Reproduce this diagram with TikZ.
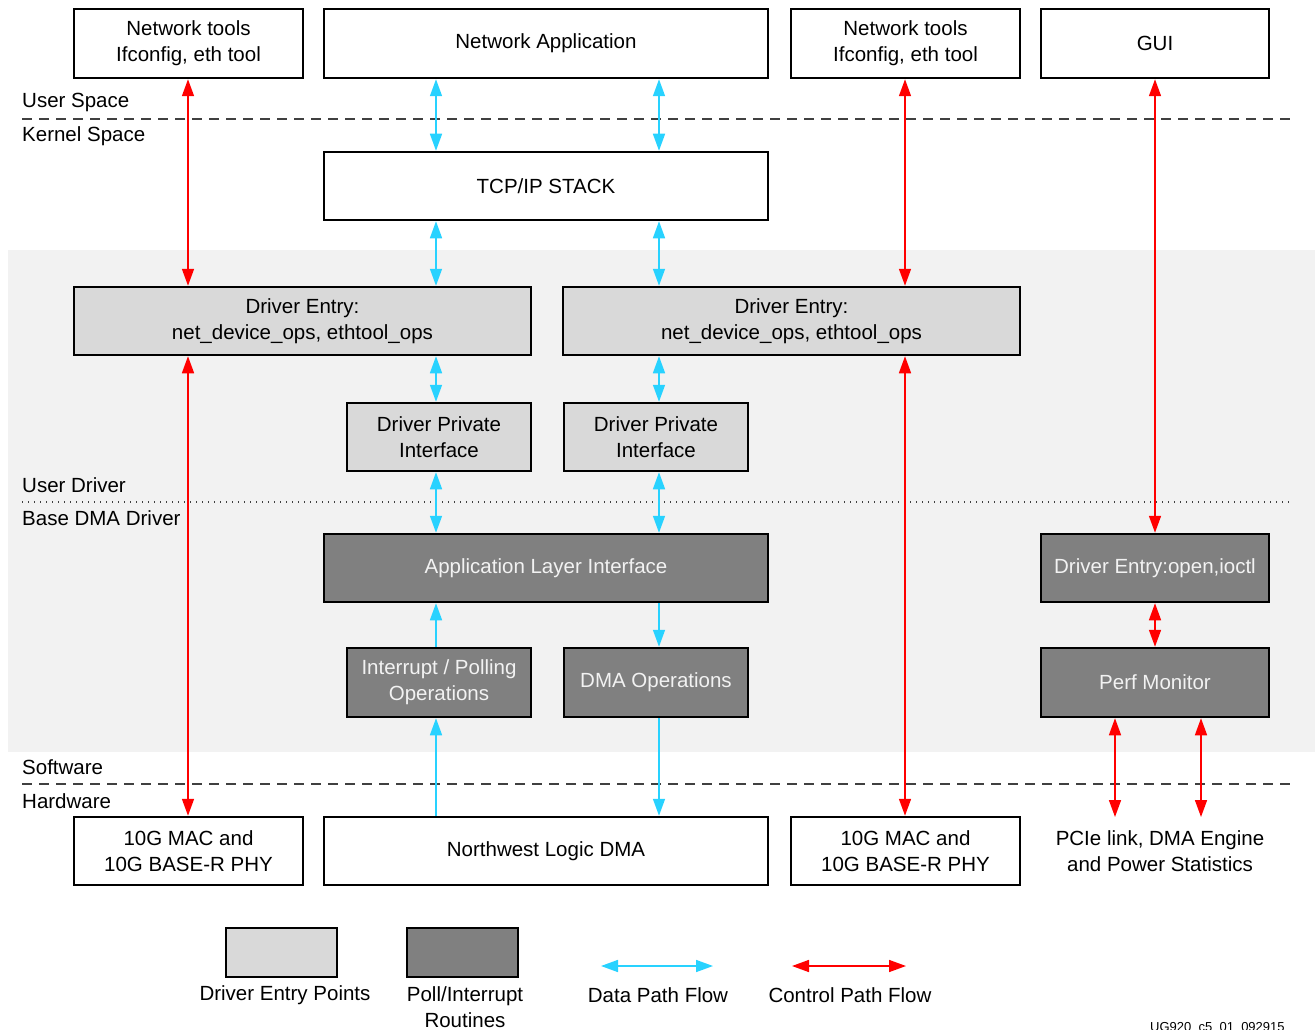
\documentclass[tikz,border=0pt]{standalone}
\usepackage{fontspec}
\setmainfont{Liberation Sans}
\usetikzlibrary{arrows.meta}
\definecolor{band}{HTML}{F2F2F2}
\definecolor{entry}{HTML}{D9D9D9}
\definecolor{routine}{HTML}{808080}
\definecolor{datac}{RGB}{40,210,255}
\definecolor{ctrlc}{RGB}{255,0,0}
\definecolor{sepc}{HTML}{404040}

\begin{document}
\begin{tikzpicture}[x=1pt,y=-1pt,
  every node/.style={font=\fontsize{20.5}{26}\selectfont},
  box/.style={draw=black, line width=2.5pt, inner sep=0pt, align=center},
  plainbox/.style={box, fill=white},
  entrybox/.style={box, fill=entry},
  routinebox/.style={box, fill=routine, text=band},
  data/.style={draw=datac, line width=1.6pt, {Triangle[length=17pt,width=12pt]}-{Triangle[length=17pt,width=12pt]}},
  dataone/.style={draw=datac, line width=1.6pt, -{Triangle[length=17pt,width=12pt]}},
  ctrl/.style={draw=ctrlc, line width=1.6pt, {Triangle[length=17pt,width=12pt]}-{Triangle[length=17pt,width=12pt]}},
  layer/.style={anchor=west, inner sep=0pt},
  splitline/.style={draw=sepc, line width=1.2pt, dash pattern=on 10pt off 7pt},
  dotline/.style={draw=sepc, line width=1.2pt, dash pattern=on 1.2pt off 4.8pt},
]
\useasboundingbox (0,0) rectangle (1315,1030);
\fill[white] (0,0) rectangle (1315,1030);

% driver region background
\fill[band] (8,250) rectangle (1315,752);

% layer separators and labels
\draw[splitline] (22,119) -- (1295,119);
\draw[dotline] (22,502) -- (1290,502);
\draw[splitline] (22,784) -- (1295,784);
\node[layer] (lus) at (22,102) {User Space};
\node[layer] (lks) at (22,136) {Kernel Space};
\node[layer] (lud) at (22,485) {User Driver};
\node[layer] (lbd) at (22,518) {Base DMA Driver};
\node[layer] (lsw) at (22,767) {Software};
\node[layer] (lhw) at (22,801) {Hardware};

% user space
\node[plainbox, minimum width=229pt, minimum height=69pt] (nt1) at (188.5,43.5) {Network tools\\Ifconfig, eth tool};
\node[plainbox, minimum width=444pt, minimum height=69pt] (netapp) at (546,43.5) {Network Application};
\node[plainbox, minimum width=229pt, minimum height=69pt] (nt2) at (905.5,43.5) {Network tools\\Ifconfig, eth tool};
\node[plainbox, minimum width=228pt, minimum height=69pt] (gui) at (1155,43.5) {GUI};

% kernel
\node[plainbox, minimum width=444pt, minimum height=68pt] (tcp) at (546,186) {TCP/IP STACK};

% user driver
\node[entrybox, minimum width=457pt, minimum height=68pt] (de1) at (302.5,321) {Driver Entry:\\net\_device\_ops, ethtool\_ops};
\node[entrybox, minimum width=457pt, minimum height=68pt] (de2) at (791.5,321) {Driver Entry:\\net\_device\_ops, ethtool\_ops};
\node[entrybox, minimum width=184pt, minimum height=68pt] (dpi1) at (439,437) {Driver Private\\Interface};
\node[entrybox, minimum width=184pt, minimum height=68pt] (dpi2) at (656,437) {Driver Private\\Interface};

% base DMA driver
\node[routinebox, minimum width=444pt, minimum height=68pt] (ali) at (546,568) {Application Layer Interface};
\node[routinebox, minimum width=228pt, minimum height=68pt] (deo) at (1155,568) {Driver Entry:open,ioctl};
\node[routinebox, minimum width=184pt, minimum height=69pt] (ipo) at (439,682.5) {Interrupt / Polling\\Operations};
\node[routinebox, minimum width=184pt, minimum height=69pt] (dmao) at (656,682.5) {DMA Operations};
\node[routinebox, minimum width=228pt, minimum height=69pt] (perf) at (1155,682.5) {Perf Monitor};

% hardware
\node[plainbox, minimum width=229pt, minimum height=68pt] (mac1) at (188.5,851) {10G MAC and\\10G BASE-R PHY};
\node[plainbox, minimum width=444pt, minimum height=68pt] (nwl) at (546,851) {Northwest Logic DMA};
\node[plainbox, minimum width=229pt, minimum height=68pt] (mac2) at (905.5,851) {10G MAC and\\10G BASE-R PHY};
\node[align=center, inner sep=0pt] (pcie) at (1160,851) {PCIe link, DMA Engine\\and Power Statistics};

% connector columns and statistics end points
\coordinate (rL) at (188,0);
\coordinate (rR) at (905,0);
\coordinate (cL) at (436,0);
\coordinate (cR) at (659,0);
\coordinate (pcL) at (1115,817);
\coordinate (pcR) at (1201,817);

% control path
\draw[ctrl] (nt1.south -| rL) -- (de1.north -| rL);
\draw[ctrl] (de1.south -| rL) -- (mac1.north -| rL);
\draw[ctrl] (nt2.south -| rR) -- (de2.north -| rR);
\draw[ctrl] (de2.south -| rR) -- (mac2.north -| rR);
\draw[ctrl] (gui.south) -- (deo.north);
\draw[ctrl] (deo.south) -- (perf.north);
\draw[ctrl] (perf.south -| pcL) -- (pcL);
\draw[ctrl] (perf.south -| pcR) -- (pcR);

% data path
\draw[data] (netapp.south -| cL) -- (tcp.north -| cL);
\draw[data] (netapp.south -| cR) -- (tcp.north -| cR);
\draw[data] (tcp.south -| cL) -- (de1.north -| cL);
\draw[data] (tcp.south -| cR) -- (de2.north -| cR);
\draw[data] (de1.south -| cL) -- (dpi1.north -| cL);
\draw[data] (de2.south -| cR) -- (dpi2.north -| cR);
\draw[data] (dpi1.south -| cL) -- (ali.north -| cL);
\draw[data] (dpi2.south -| cR) -- (ali.north -| cR);
\draw[dataone] (ipo.north -| cL) -- (ali.south -| cL);
\draw[dataone] (ali.south -| cR) -- (dmao.north -| cR);
\draw[dataone] (nwl.north -| cL) -- (ipo.south -| cL);
\draw[dataone] (dmao.south -| cR) -- (nwl.north -| cR);

% legend
\node[entrybox, minimum width=111pt, minimum height=49pt] (lg1) at (281.5,952.5) {};
\node[routinebox, minimum width=111pt, minimum height=49pt] (lg2) at (462.5,952.5) {};
\node[inner sep=0pt] (lg1t) at (285,995) {Driver Entry Points};
\node[inner sep=0pt, align=center] (lg2t) at (465,1007) {Poll/Interrupt\\Routines};
\coordinate (ld1) at (601,966);
\coordinate (ld2) at (713,966);
\coordinate (lc1) at (792,966);
\coordinate (lc2) at (906,966);
\draw[data] (ld1) -- (ld2);
\draw[ctrl] (lc1) -- (lc2);
\node[inner sep=0pt] (lg3t) at (658,995) {Data Path Flow};
\node[inner sep=0pt] (lg4t) at (850,995) {Control Path Flow};

% figure id
\node[anchor=north west, inner sep=0pt, font=\fontsize{13}{15}\selectfont] (fid) at (1150,1022) {UG920\_c5\_01\_092915};
\end{tikzpicture}
\end{document}
